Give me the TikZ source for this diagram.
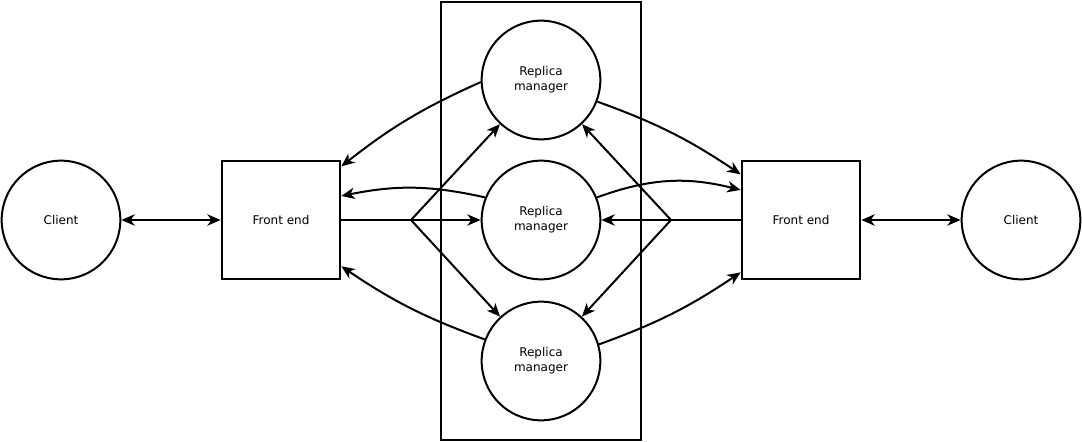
\documentclass[tikz,border=0pt]{standalone}
\usepackage{fontspec}
\setmainfont{DejaVu Sans}
\usetikzlibrary{arrows.meta}

\begin{document}
\begin{tikzpicture}[x=0.75pt, y=-0.75pt, line width=1.5pt,
    font=\fontsize{9}{11.5}\selectfont,
    tip/.style={-{Stealth[length=10pt, width=8.5pt, inset=3pt]}},
    both/.style={{Stealth[length=10pt, width=8.5pt, inset=3pt]}-{Stealth[length=10pt, width=8.5pt, inset=3pt]}},
    actor/.style={circle, draw=black, align=center, minimum size = 89pt, inner sep=0},
    front/.style={rectangle, draw=black, align=center, minimum height = 89pt, minimum width = 89pt, inner sep=0}]
  \useasboundingbox (0,0) rectangle (1082,442);

  % replica group
  \node[rectangle, draw=black,
    minimum height = 328.5pt,
    minimum width = 149.5pt] (group) at (541,220.75) {};

  \node[actor] (client1) at (61,220) {Client};
  \node[front] (fe1) at (281,220) {Front end};
  \node[actor] (rm1) at (541,80) {Replica\\manager};
  \node[actor] (rm2) at (541,220) {Replica\\manager};
  \node[actor] (rm3) at (541,361) {Replica\\manager};
  \node[front] (fe2) at (801,220) {Front end};
  \node[actor] (client2) at (1021,220) {Client};

  \draw[both] (client1.east) -- (fe1.west);
  \draw[both] (fe2.east) -- (client2.west);

  % requests
  \coordinate (split1) at (411,220);
  \coordinate (split2) at (671,220);
  \draw (fe1.east) -- (split1);
  \draw[tip] (split1) -- (rm1);
  \draw[tip] (split1) -- (rm2.west);
  \draw[tip] (split1) -- (rm3);
  \draw (fe2.west) -- (split2);
  \draw[tip] (split2) -- (rm1);
  \draw[tip] (split2) -- (rm2.east);
  \draw[tip] (split2) -- (rm3);

  % replies
  \draw[tip] (rm1.182) to[bend right=7] ([yshift=-5pt]fe1.north east);
  \draw[tip] (rm2.158) to[bend right=12] ([yshift=18pt]fe1.east);
  \draw[tip] (rm3.159) to[bend left=7] ([yshift=10.5pt]fe1.south east);
  \draw[tip] (rm1.-21) to[bend left=7] ([yshift=-11pt]fe2.north west);
  \draw[tip] (rm2.22) to[bend left=17] ([yshift=22.5pt]fe2.west);
  \draw[tip] (rm3.16) to[bend right=7] ([yshift=6pt]fe2.south west);
\end{tikzpicture}
\end{document}
